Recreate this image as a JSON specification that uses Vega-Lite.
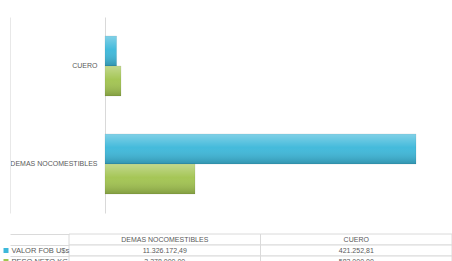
{
  "$schema": "https://vega.github.io/schema/vega-lite/v6.json",
  "padding": {"left": 0, "top": 17, "right": 0, "bottom": 0},
  "background": "white",
  "config": {
    "view": {"stroke": null},
    "font": "Liberation Sans",
    "locale": {"number": {"decimal": ",", "thousands": ".", "grouping": [3], "currency": ["", ""]}},
    "axis": {"labelFont": "Liberation Sans", "labelFontSize": 7, "labelColor": "#595959"}
  },
  "datasets": {
    "bars": [
      {"cat": "DEMAS NOCOMESTIBLES", "serie": "VALOR FOB U$s", "v": 11326172.49},
      {"cat": "DEMAS NOCOMESTIBLES", "serie": "PESO NETO KG", "v": 3278000},
      {"cat": "CUERO", "serie": "VALOR FOB U$s", "v": 421252.81},
      {"cat": "CUERO", "serie": "PESO NETO KG", "v": 583000}
    ],
    "cats": [{"cat": "DEMAS NOCOMESTIBLES"}, {"cat": "CUERO"}]
  },
  "spacing": 17,
  "vconcat": [
    {
      "width": 383,
      "height": 196,
      "data": {"name": "bars"},
      "layer": [
        {
          "mark": {"type": "bar", "stroke": "rgba(0,0,0,0.12)", "strokeWidth": 0.6},
          "encoding": {
            "y": {"field": "cat", "type": "nominal", "sort": ["CUERO", "DEMAS NOCOMESTIBLES"],
                  "scale": {"paddingInner": 0.388, "paddingOuter": 0.194},
                  "axis": {"orient": "left", "title": null, "offset": -36, "domainColor": "#d9d9d9", "ticks": false, "labelPadding": 8}},
            "yOffset": {"field": "serie", "type": "nominal", "sort": ["VALOR FOB U$s", "PESO NETO KG"], "scale": {"domain": ["VALOR FOB U$s", "PESO NETO KG"], "paddingInner": 0, "paddingOuter": 0}},
            "x": {"field": "v", "type": "quantitative", "scale": {"domain": [-1311000, 12637000], "nice": false, "zero": false}, "axis": null},
            "x2": {"datum": 0},
            "color": {"field": "serie", "type": "nominal", "scale": {"domain": ["VALOR FOB U$s", "PESO NETO KG"], "range": ["#3db8da", "#a2c450"]}, "legend": null}
          }
        },
        {
          "mark": {"type": "bar", "fill": {"gradient": "linear", "x1": 0, "y1": 0, "x2": 0, "y2": 1,
            "stops": [{"offset": 0, "color": "rgba(255,255,255,0.35)"}, {"offset": 0.45, "color": "rgba(255,255,255,0.04)"}, {"offset": 1, "color": "rgba(0,0,0,0.2)"}]}},
          "encoding": {
            "y": {"field": "cat", "type": "nominal", "sort": ["CUERO", "DEMAS NOCOMESTIBLES"],
                  "scale": {"paddingInner": 0.388, "paddingOuter": 0.194}, "axis": null},
            "yOffset": {"field": "serie", "type": "nominal", "sort": ["VALOR FOB U$s", "PESO NETO KG"], "scale": {"domain": ["VALOR FOB U$s", "PESO NETO KG"], "paddingInner": 0, "paddingOuter": 0}},
            "x": {"field": "v", "type": "quantitative", "scale": {"domain": [-1311000, 12637000], "nice": false, "zero": false}, "axis": null},
            "x2": {"datum": 0}
          }
        },
        {
          "mark": {"type": "tick", "opacity": 0},
          "encoding": {
            "y": {"field": "cat", "type": "nominal", "sort": ["CUERO", "DEMAS NOCOMESTIBLES"],
                  "scale": {"paddingInner": 0.388, "paddingOuter": 0.194},
                  "axis": {"orient": "left", "title": null, "offset": 59, "labels": false, "ticks": false, "domainColor": "#e8e8e8"}},
            "x": {"field": "v", "type": "quantitative", "scale": {"domain": [-1311000, 12637000], "nice": false, "zero": false}, "axis": null}
          }
        }
      ],
      "resolve": {"scale": {"y": "independent"}, "axis": {"y": "independent"}}
    },
    {
      "width": 383,
      "height": 33,
      "layer": [
        {
          "data": {"name": "cats"},
          "mark": {"type": "rect", "fill": "white", "stroke": "#dadada", "strokeWidth": 1},
          "encoding": {
            "x": {"field": "cat", "type": "nominal", "sort": ["DEMAS NOCOMESTIBLES", "CUERO"], "axis": null, "scale": {"paddingInner": 0, "paddingOuter": 0}},
            "y": {"datum": " ", "type": "nominal", "scale": {"domain": [" ", "VALOR FOB U$s", "PESO NETO KG"], "paddingInner": 0, "paddingOuter": 0},
                  "axis": {"orient": "left", "title": null, "domain": false, "tickBand": "extent", "tickSize": 59, "tickColor": "#dadada", "labelAlign": "left", "labelPadding": -1, "labelFontSize": 7.5}}
          }
        },
        {
          "data": {"name": "cats"},
          "mark": {"type": "text", "fontSize": 7, "color": "#595959", "baseline": "middle", "align": "center"},
          "encoding": {
            "x": {"field": "cat", "type": "nominal", "sort": ["DEMAS NOCOMESTIBLES", "CUERO"], "axis": null, "scale": {"paddingInner": 0, "paddingOuter": 0}},
            "y": {"datum": " ", "type": "nominal", "scale": {"domain": [" ", "VALOR FOB U$s", "PESO NETO KG"], "paddingInner": 0, "paddingOuter": 0}, "axis": null},
            "text": {"field": "cat", "type": "nominal"}
          }
        },
        {
          "data": {"name": "bars"},
          "mark": {"type": "rect", "fill": "white", "stroke": "#dadada", "strokeWidth": 1},
          "encoding": {
            "x": {"field": "cat", "type": "nominal", "sort": ["DEMAS NOCOMESTIBLES", "CUERO"], "axis": null, "scale": {"paddingInner": 0, "paddingOuter": 0}},
            "y": {"field": "serie", "type": "nominal", "scale": {"domain": [" ", "VALOR FOB U$s", "PESO NETO KG"], "paddingInner": 0, "paddingOuter": 0}, "axis": null}
          }
        },
        {
          "data": {"name": "bars"},
          "mark": {"type": "text", "fontSize": 7, "color": "#595959", "baseline": "middle", "align": "center"},
          "encoding": {
            "x": {"field": "cat", "type": "nominal", "sort": ["DEMAS NOCOMESTIBLES", "CUERO"], "axis": null, "scale": {"paddingInner": 0, "paddingOuter": 0}},
            "y": {"field": "serie", "type": "nominal", "scale": {"domain": [" ", "VALOR FOB U$s", "PESO NETO KG"], "paddingInner": 0, "paddingOuter": 0}, "axis": null},
            "text": {"field": "v", "type": "quantitative", "format": ",.2f"}
          }
        },
        {
          "data": {"name": "bars"},
          "mark": {"type": "tick", "opacity": 0},
          "encoding": {
            "y": {"field": "serie", "type": "nominal", "scale": {"domain": [" ", "VALOR FOB U$s", "PESO NETO KG"], "paddingInner": 0, "paddingOuter": 0},
                  "axis": {"orient": "left", "title": null, "offset": 61, "domain": false, "labels": false, "tickSize": 5, "tickWidth": 5,
                           "tickColor": {"condition": {"test": "datum.value === 'VALOR FOB U$s'", "value": "#3db8da"}, "value": "#a2c450"},
                           "tickOpacity": {"condition": {"test": "datum.value === ' '", "value": 0}, "value": 1}}}
          }
        }
      ],
      "resolve": {"scale": {"y": "independent"}, "axis": {"y": "independent"}}
    }
  ]
}
